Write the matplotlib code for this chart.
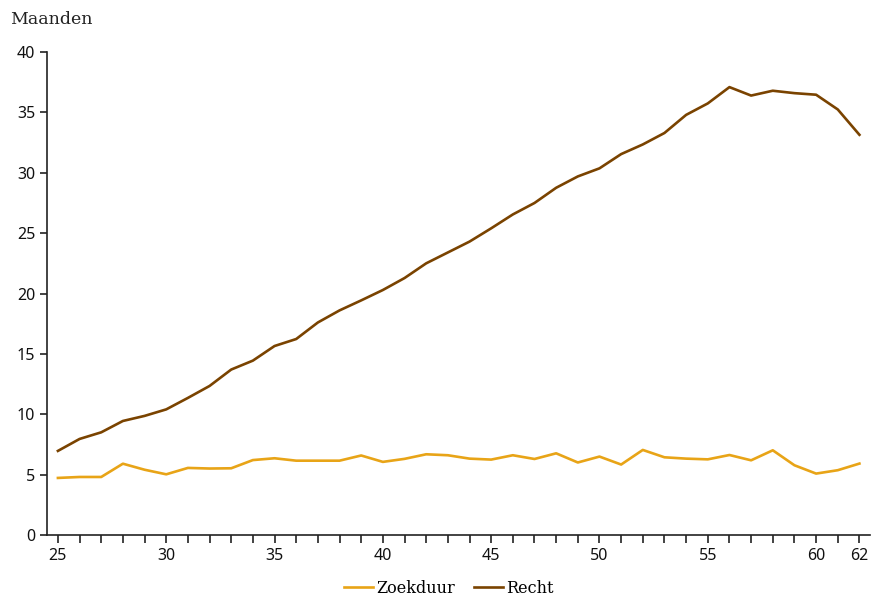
import matplotlib
matplotlib.use("Agg")
import matplotlib.pyplot as plt

# leeftijd
leeftijd = list(range(25, 63))

# maanden
zoekduur = [4.72, 4.8, 4.8, 5.9, 5.4, 5.02, 5.55, 5.5, 5.52, 6.2,
            6.35, 6.15, 6.15, 6.15, 6.58, 6.05, 6.3, 6.68, 6.6, 6.32,
            6.24, 6.6, 6.29, 6.76, 6.0, 6.49, 5.83, 7.04, 6.43, 6.32,
            6.26, 6.62, 6.18, 7.01, 5.77, 5.08, 5.36, 5.91]
recht = [6.96, 7.95, 8.5, 9.44, 9.86, 10.4, 11.35, 12.34, 13.7, 14.44,
         15.65, 16.23, 17.6, 18.6, 19.43, 20.29, 21.28, 22.5, 23.4, 24.3,
         25.4, 26.55, 27.5, 28.76, 29.7, 30.37, 31.55, 32.35, 33.3, 34.8,
         35.75, 37.1, 36.4, 36.8, 36.6, 36.47, 35.25, 33.15]

x_ticks = [25, 30, 35, 40, 45, 50, 55, 60, 62]
y_ticks = [0, 5, 10, 15, 20, 25, 30, 35, 40]

fig = plt.figure(figsize=(8.72, 5.99), dpi=100)
ax = fig.add_axes([0.054, 0.107, 0.944, 0.806])

ax.plot(leeftijd, zoekduur, color='#E8A417', lw=1.9, label='Zoekduur')
ax.plot(leeftijd, recht, color='#7A4300', lw=1.9, label='Recht')

ax.set_xlim(24.5, 62.5)
ax.set_ylim(0, 40)
ax.set_xticks(x_ticks)
ax.set_xticks(leeftijd, minor=True)
ax.set_yticks(y_ticks)

for s in ['top', 'right']:
    ax.spines[s].set_visible(False)
for s in ['left', 'bottom']:
    ax.spines[s].set_color('#222222')
    ax.spines[s].set_linewidth(1.2)

tick_font = 'Noto Sans'
ax.tick_params(axis='both', which='both', direction='out', color='#222222', width=1.2)
ax.tick_params(axis='x', which='both', length=6)
ax.tick_params(axis='y', length=5)
for lab in ax.get_xticklabels() + ax.get_yticklabels():
    lab.set_fontfamily(tick_font)
    lab.set_fontsize(11.5)
    lab.set_color('#111111')

fig.text(0.012, 0.968, 'Maanden', family='DejaVu Serif', fontsize=12.5,
         color='#222222', ha='left', va='center')

leg = fig.legend(loc='center', bbox_to_anchor=(0.515, 0.018), ncol=2, frameon=False,
                 handlelength=1.8, handletextpad=0.2, columnspacing=1.2,
                 prop={'family': 'DejaVu Serif', 'size': 11.5})

fig.savefig('out.png', dpi=100)
